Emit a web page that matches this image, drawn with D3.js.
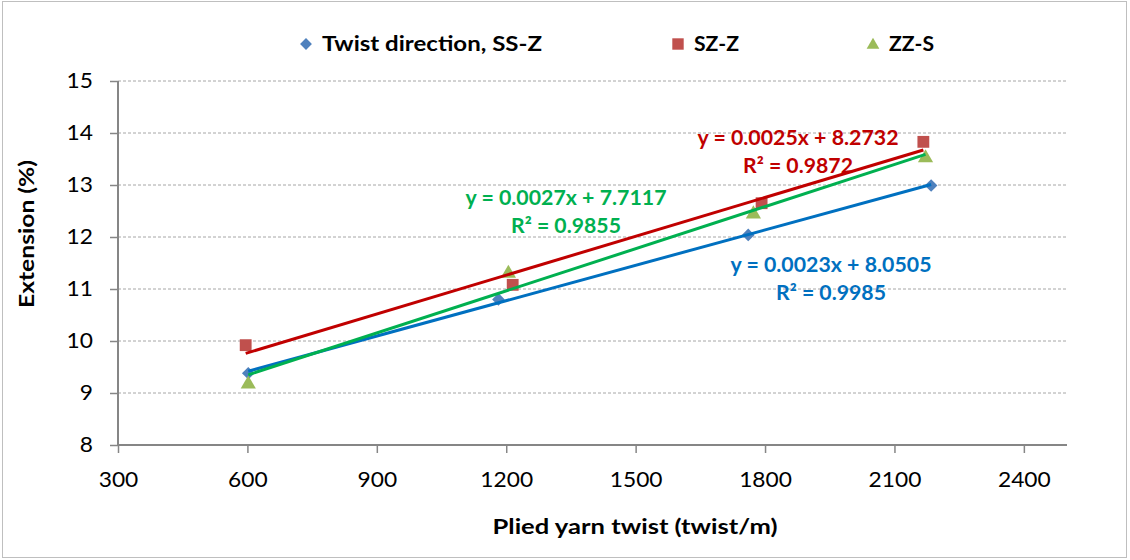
<!DOCTYPE html>
<html><head><meta charset="utf-8">
<script src="https://cdn.jsdelivr.net/npm/d3@7"></script>
<style>body{margin:0;background:#fff}svg{display:block;font-family:Lato,"Open Sans",sans-serif}</style>
</head><body><svg id="c" width="1130" height="560"></svg>
<script>
const seriesNames = ["Twist direction, SS-Z", "SZ-Z", "ZZ-S"];
const ssz_x = [602, 1182, 1761, 2185];
const ssz_y = [9.38, 10.80, 12.04, 12.99];
const szz_x = [596, 1215, 1792, 2167];
const szz_y = [9.92, 11.08, 12.65, 13.83];
const zzs_x = [602, 1205, 1773, 2172];
const zzs_y = [9.17, 11.30, 12.44, 13.52];
const eqLabels = ["y = 0.0023x + 8.0505", "y = 0.0025x + 8.2732", "y = 0.0027x + 7.7117"];
const r2Labels = ["R² = 0.9985", "R² = 0.9872", "R² = 0.9855"];
const xTicks = [300, 600, 900, 1200, 1500, 1800, 2100, 2400];
const yTicks = [8, 9, 10, 11, 12, 13, 14, 15];

const svg = d3.select("#c");
const L = 118, R = 1067, T = 81, B = 445;
const x = d3.scaleLinear().domain([300, 2500]).range([L, R]);
const y = d3.scaleLinear().domain([8, 15]).range([B, T]);

function stretch(sel, w) {
  sel.attr("textLength", w).attr("lengthAdjust", "spacingAndGlyphs");
}

svg.append("rect").attr("x", 2.5).attr("y", 1.5).attr("width", 1124).attr("height", 556)
  .attr("fill", "none").attr("stroke", "#bfbfbf").attr("stroke-width", 1);

// gridlines
svg.append("g").selectAll("line").data(yTicks.filter(d => d > 8)).join("line")
  .attr("x1", L).attr("x2", R).attr("y1", d => y(d)).attr("y2", d => y(d))
  .attr("stroke", "#a6a6a6").attr("stroke-width", 1).attr("stroke-dasharray", "3,2");

// axes
const fmt = d3.format("d");
const xAxis = svg.append("g").attr("transform", `translate(0,${B})`)
  .call(d3.axisBottom(x).tickValues(xTicks).tickFormat(fmt).tickSize(8).tickPadding(19).tickSizeOuter(0));
const yAxis = svg.append("g").attr("transform", `translate(${L},0)`)
  .call(d3.axisLeft(y).tickValues(yTicks).tickFormat(fmt).tickSize(8).tickPadding(17).tickSizeOuter(0));
[xAxis, yAxis].forEach(a => {
  a.attr("font-size", null).attr("font-family", null);
  a.select(".domain").attr("stroke", "#868686").attr("stroke-width", 2);
  a.selectAll(".tick line").attr("stroke", "#868686").attr("stroke-width", 1.5);
  a.selectAll(".tick text").attr("fill", "#000").style("font-size", "21px")
    .each(function () { stretch(d3.select(this), 13.2 * this.textContent.length); });
});
xAxis.select(".domain").attr("d", `M${L},0H${R}`);
yAxis.select(".domain").attr("d", `M0,${B}V${T}`);

// axis titles
svg.append("text").attr("x", 635).attr("y", 534).attr("text-anchor", "middle")
  .style("font-size", "20px").style("font-weight", "bold").text("Plied yarn twist (twist/m)")
  .call(stretch, 285);
svg.append("text").attr("transform", "translate(34,234) rotate(-90)").attr("text-anchor", "middle")
  .style("font-size", "20px").style("font-weight", "bold").text("Extension (%)")
  .call(stretch, 148);

const diamond = {draw(ctx, size) { const r = Math.sqrt(size / 2);
  ctx.moveTo(0, -r); ctx.lineTo(r, 0); ctx.lineTo(0, r); ctx.lineTo(-r, 0); ctx.closePath(); }};

const series = [
  {xs: ssz_x, ys: ssz_y, mark: "#4f81bd", line: "#0070c0", sym: diamond, size: 80, eqx: 831, eqy: 265},
  {xs: szz_x, ys: szz_y, mark: "#c0504d", line: "#c00000", sym: d3.symbolSquare, size: 140, eqx: 798, eqy: 138},
  {xs: zzs_x, ys: zzs_y, mark: "#9bbb59", line: "#00b050", sym: d3.symbolTriangle, size: 100, eqx: 566, eqy: 198}
];

function fit(xs, ys) {
  const mx = d3.mean(xs), my = d3.mean(ys);
  const sxy = d3.sum(xs, (v, i) => (v - mx) * (ys[i] - my));
  const sxx = d3.sum(xs, v => (v - mx) * (v - mx));
  const m = sxy / sxx;
  return {m, b: my - m * mx};
}

// markers
series.forEach(s => {
  svg.append("g").selectAll("path").data(s.xs).join("path")
    .attr("d", d3.symbol().type(s.sym).size(s.size))
    .attr("transform", (d, i) => `translate(${x(d)},${y(s.ys[i])})`)
    .attr("fill", s.mark);
});
// trend lines
series.forEach(s => {
  const f = fit(s.xs, s.ys);
  const x0 = d3.min(s.xs), x1 = d3.max(s.xs);
  svg.append("line").attr("x1", x(x0)).attr("y1", y(f.m * x0 + f.b))
    .attr("x2", x(x1)).attr("y2", y(f.m * x1 + f.b))
    .attr("stroke", s.line).attr("stroke-width", 3);
});
// equations
series.forEach((s, i) => {
  const g = svg.append("g").attr("fill", s.line).style("font-size", "20px").style("font-weight", "bold")
    .attr("text-anchor", "middle");
  g.append("text").attr("x", s.eqx).attr("y", s.eqy).attr("dy", "0.35em").text(eqLabels[i]).call(stretch, 201);
  g.append("text").attr("x", s.eqx).attr("y", s.eqy + 28).attr("dy", "0.35em").text(r2Labels[i]).call(stretch, 110);
});

// legend
const legX = [306, 678, 873];
const legW = [220, 45, 45];
series.forEach((s, i) => {
  svg.append("path").attr("d", d3.symbol().type(s.sym).size(i === 1 ? 130 : 70))
    .attr("transform", `translate(${legX[i]},${i === 2 ? 45 : 44})`).attr("fill", s.mark);
  svg.append("text").attr("x", legX[i] + 16).attr("y", 44).attr("dy", "0.35em")
    .style("font-size", "20px").style("font-weight", "bold").text(seriesNames[i]).call(stretch, legW[i]);
});
</script></body></html>
